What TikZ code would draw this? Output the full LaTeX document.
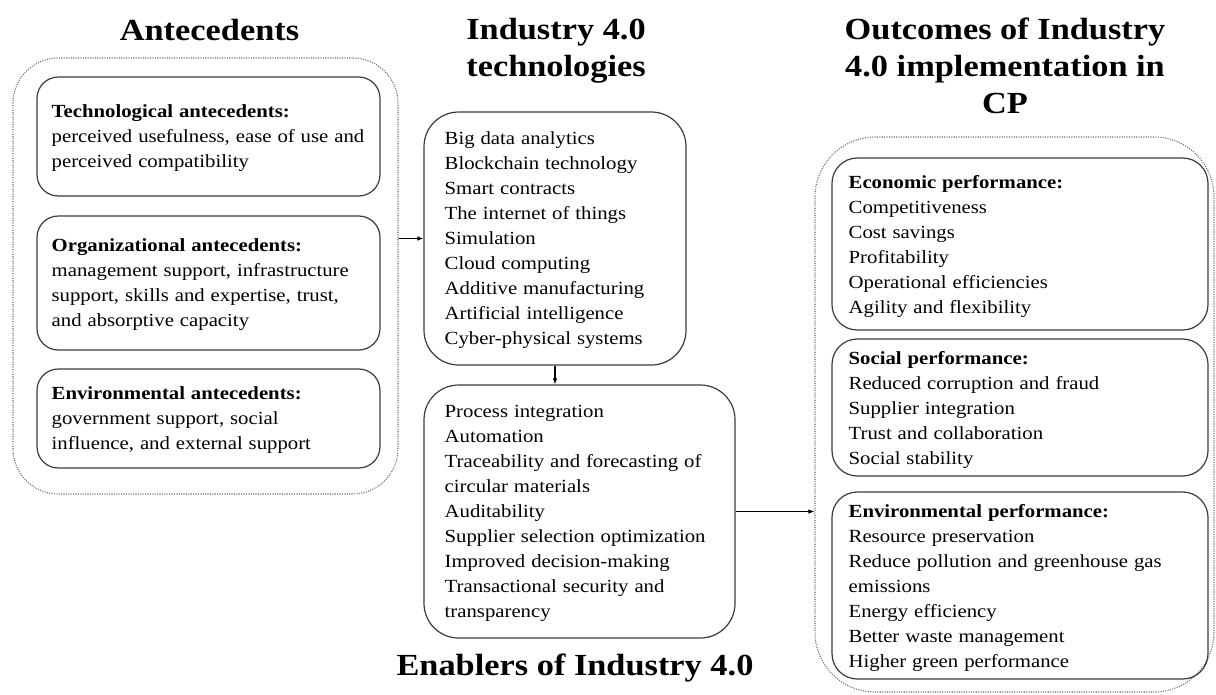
\documentclass[tikz,border=0pt]{standalone}
\usepackage{fontspec}
\setmainfont{Liberation Serif}[FakeStretch=1.12]
\usetikzlibrary{arrows.meta,fit}
\definecolor{boxcol}{HTML}{3C3C3C}
\definecolor{dotcol}{HTML}{6A6A6A}
\begin{document}
\begin{tikzpicture}[x=0.75pt,y=-0.75pt,
  frame/.style={draw=boxcol,line width=0.9pt,inner sep=0pt},
  lbox/.style={frame,rounded corners=16pt},
  mbox/.style={frame,rounded corners=26pt},
  rbox/.style={frame,rounded corners=19pt},
  outer/.style={draw=dotcol,densely dotted,line width=0.8pt,inner sep=0pt},
  txt/.style={inner sep=0pt,align=left,anchor=west,font={\fontsize{13.9}{18.75}\selectfont\spaceskip=0.32em plus 0.1em}},
  ttl/.style={inner sep=0pt,align=center,font={\fontsize{23}{27.75}\selectfont\bfseries}},
  arr/.style={draw=black,line width=0.8pt,-{Latex[length=4.5pt,width=3.5pt]}}
]
\useasboundingbox (0,0) rectangle (1216,694);
\fill[white] (0,0) rectangle (1216,694);

% titles
\node[ttl,anchor=base] (tA) at (209.5,40) {Antecedents};
\node[ttl] (tI) at (556,51) {Industry 4.0\\technologies};
\node[ttl] (tO) at (1005,66) {Outcomes of Industry\\4.0 implementation in\\CP};
\node[ttl,anchor=base] (tE) at (575,675) {Enablers of Industry 4.0};

% antecedents
\node[outer,rounded corners=34pt,fit={(13,58) (398,494)}] (antOuter) {};
\node[lbox,fit={(37,77) (380,196)}] (tech) {};
\node[lbox,fit={(37,216) (380,350)}] (org) {};
\node[lbox,fit={(37,369) (380,468)}] (envA) {};
\node[txt,xshift=11.25pt,yshift=-1.5pt] (techT) at (tech.west)
  {\textbf{Technological antecedents:}\\perceived usefulness, ease of use and\\perceived compatibility};
\node[txt,xshift=11.25pt,yshift=-1.5pt] (orgT) at (org.west)
  {\textbf{Organizational antecedents:}\\management support, infrastructure\\support, skills and expertise, trust,\\and absorptive capacity};
\node[txt,xshift=11.25pt,yshift=-1.5pt] (envAT) at (envA.west)
  {\textbf{Environmental antecedents:}\\government support, social\\influence, and external support};

% technologies and enablers
\node[mbox,fit={(424,112) (686,365)}] (techs) {};
\node[mbox,fit={(424,385) (735,638)}] (enab) {};
\node[txt,xshift=15.75pt,yshift=-1.5pt] (techsT) at (techs.west)
  {Big data analytics\\Blockchain technology\\Smart contracts\\The internet of things\\Simulation\\Cloud computing\\Additive manufacturing\\Artificial intelligence\\Cyber-physical systems};
\node[txt,xshift=15.75pt,yshift=-1.5pt] (enabT) at (enab.west)
  {Process integration\\Automation\\Traceability and forecasting of\\circular materials\\Auditability\\Supplier selection optimization\\Improved decision-making\\Transactional security and\\transparency};

% outcomes
\node[outer,rounded corners=45pt,fit={(815,137) (1214,692)}] (outOuter) {};
\node[rbox,fit={(832,158) (1208,330)}] (econ) {};
\node[rbox,fit={(832,339) (1208,476)}] (soc) {};
\node[rbox,fit={(832,492) (1208,679)}] (envP) {};
\node[txt,xshift=12.75pt,yshift=-1.5pt] (econT) at (econ.west)
  {\textbf{Economic performance:}\\Competitiveness\\Cost savings\\Profitability\\Operational efficiencies\\Agility and flexibility};
\node[txt,xshift=12.75pt,yshift=-1.5pt] (socT) at (soc.west)
  {\textbf{Social performance:}\\Reduced corruption and fraud\\Supplier integration\\Trust and collaboration\\Social stability};
\node[txt,xshift=12.75pt,yshift=-1.5pt] (envPT) at (envP.west)
  {\textbf{Environmental performance:}\\Resource preservation\\Reduce pollution and greenhouse gas\\emissions\\Energy efficiency\\Better waste management\\Higher green performance};

% connectors
\draw[arr] (techs.west -| antOuter.east) -- (techs.west);
\draw[arr] (techs.south) -- (techs.south |- enab.north);
\draw[arr] (enab.east) -- (enab.east -| outOuter.west);
\end{tikzpicture}
\end{document}
